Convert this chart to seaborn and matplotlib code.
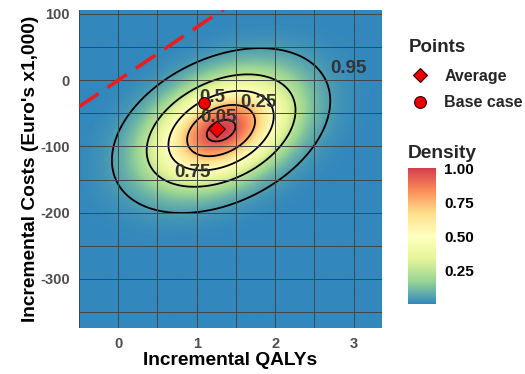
import numpy as np
import pandas as pd
import matplotlib
matplotlib.use("Agg")
import matplotlib.pyplot as plt
from matplotlib.colors import LinearSegmentedColormap
from matplotlib.lines import Line2D
import seaborn as sns

# Bivariate normal summary of the simulated incremental outcomes
qaly_mean = 1.31
cost_mean = -76.0
qaly_sd = 0.57
cost_sd = 51.0
qaly_cost_corr = 0.36

# Highest-density probability regions and where their labels sit
prob_levels = [0.05, 0.25, 0.5, 0.75, 0.95]
label_text = ["0.05", "0.25", "0.5", "0.75", "0.95"]
label_x = [1.28, 1.78, 1.20, 0.94, 2.93]
label_y = [-56, -33, -26, -140, 18]

# Highlighted points
point_names = ["Average", "Base case"]
point_markers = ["D", "o"]
point_qaly = [1.26, 1.10]
point_cost = [-74, -35]

# Willingness-to-pay threshold (Euro x1,000 per QALY)
wtp = 80

x_lim = (-0.5, 3.36)
y_lim = (-374, 106)
x_major = [0, 1, 2, 3]
x_minor = [-0.5, 0.5, 1.5, 2.5]
y_major = [-300, -200, -100, 0, 100]
y_minor = [-350, -250, -150, -50, 50]
cbar_ticks = [0.25, 0.50, 0.75, 1.00]

spectral = ["#3288BD", "#99D594", "#E6F598", "#FFFFBF", "#FEE08B", "#FC8D59", "#D53E4F"]
cmap = LinearSegmentedColormap.from_list("spectral_r", spectral)

sns.set_theme(style="white")
plt.rcParams["font.family"] = ["Liberation Sans", "DejaVu Sans"]
plt.rcParams["font.weight"] = "bold"

fig = plt.figure(figsize=(5.25, 3.74), dpi=100)
ax = fig.add_axes([79 / 525, 46 / 374, 303 / 525, 318 / 374])

# Density surface scaled to a peak of 1
gx = np.linspace(x_lim[0], x_lim[1], 500)
gy = np.linspace(y_lim[0], y_lim[1], 500)
X, Y = np.meshgrid(gx, gy)
zx = (X - qaly_mean) / qaly_sd
zy = (Y - cost_mean) / cost_sd
rho = qaly_cost_corr
dens = np.exp(-(zx ** 2 - 2 * rho * zx * zy + zy ** 2) / (2 * (1 - rho ** 2)))

# Density thresholds enclosing each probability mass
flat = np.sort(dens.ravel())[::-1]
cum = np.cumsum(flat) / flat.sum()
thresholds = sorted(flat[np.searchsorted(cum, p)] for p in prob_levels)

ax.imshow(dens, extent=(x_lim[0], x_lim[1], y_lim[0], y_lim[1]), origin="lower",
          cmap=cmap, vmin=0, vmax=1, aspect="auto", interpolation="bilinear", zorder=0)
ax.contour(X, Y, dens, levels=thresholds, colors="black", linewidths=1.3, zorder=2)

for t, lx, ly in zip(label_text, label_x, label_y):
    ax.text(lx, ly, t, ha="center", va="center", fontsize=13.5, fontweight="bold",
            color="#333333", zorder=3)

# Willingness-to-pay line
wtp_df = pd.DataFrame({"x": list(x_lim), "y": [wtp * v for v in x_lim]})
sns.lineplot(data=wtp_df, x="x", y="y", ax=ax, color="#EE1C1C", linewidth=2.6,
             linestyle=(0, (6.5, 3)), zorder=3)

pts = pd.DataFrame({"qaly": point_qaly, "cost": point_cost, "Points": point_names})
sns.scatterplot(data=pts, x="qaly", y="cost", style="Points",
                markers=dict(zip(point_names, point_markers)), color="#EE0000",
                edgecolor="#330000", linewidth=0.8, s=70, ax=ax, zorder=4, legend=False)

ax.set_xlim(*x_lim)
ax.set_ylim(*y_lim)
ax.set_xticks(x_major)
ax.set_xticks(x_minor, minor=True)
ax.set_yticks(y_major)
ax.set_yticks(y_minor, minor=True)
ax.set_xticklabels([str(v) for v in x_major])
ax.set_yticklabels([str(v) for v in y_major])
ax.grid(True, which="both", color="#444444", linewidth=0.7)
ax.set_axisbelow(False)
ax.tick_params(which="both", length=0, labelsize=10.5, labelcolor="#4D4D4D", pad=6.5)
for s in ax.spines.values():
    s.set_visible(False)
ax.set_xlabel("Incremental QALYs", fontsize=13.8, fontweight="bold", color="black", labelpad=1)
ax.set_ylabel("Incremental Costs (Euro's x1,000)", fontsize=13.8, fontweight="bold",
              color="black", labelpad=1)

handles = [Line2D([], [], linestyle="none", marker=m, markersize=8.5 if m == "o" else 7.5,
                  markerfacecolor="#EE0000", markeredgecolor="#330000", markeredgewidth=0.8)
           for m in point_markers]
leg = ax.legend(handles, point_names, title="Points", loc="upper left",
                bbox_to_anchor=(409 / 525, 1 - 39 / 374), bbox_transform=fig.transFigure,
                frameon=False, prop={"size": 11.5, "weight": "bold"}, handletextpad=0.8,
                labelspacing=0.75, borderaxespad=0, borderpad=0, handlelength=1.4,
                title_fontproperties={"size": 13.5, "weight": "bold"})
leg._legend_box.align = "left"
leg._legend_box.sep = 9

cax = fig.add_axes([408 / 525, 70 / 374, 28 / 525, 136 / 374])
cb = fig.colorbar(ax.images[0], cax=cax, ticks=cbar_ticks)
cb.outline.set_visible(False)
cb.ax.yaxis.set_ticks_position("both")
cb.ax.set_yticklabels([f"{v:.2f}" for v in cbar_ticks])
cb.ax.tick_params(length=5, width=0.8, color="white", direction="in", labelsize=11,
                  labelcolor="black", pad=6, labelleft=False, labelright=True)
fig.text(408 / 525, 1 - 153 / 374, "Density", fontsize=13.8, fontweight="bold",
         va="center", ha="left")

fig.savefig("out.png", dpi=100)
